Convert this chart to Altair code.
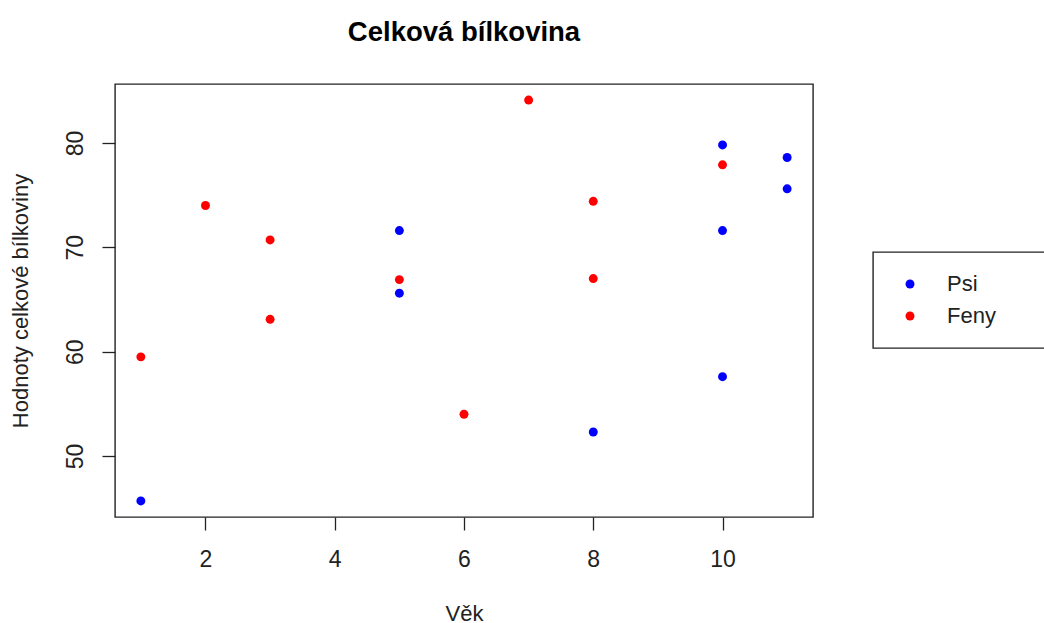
import altair as alt
import pandas as pd

# Data
psi_age = [1, 5, 5, 8, 10, 10, 10, 11, 11]
psi_val = [45.7, 71.6, 65.6, 52.3, 79.8, 71.6, 57.6, 78.6, 75.6]
feny_age = [1, 2, 3, 3, 5, 6, 7, 8, 8, 10]
feny_val = [59.5, 74.0, 70.7, 63.1, 66.9, 54.0, 84.1, 74.4, 67.0, 77.9]

groups = ["Psi", "Feny"]
group_colors = ["#0000ff", "#ff0000"]
x_ticks = [2, 4, 6, 8, 10]
y_ticks = [50, 60, 70, 80]

df = pd.DataFrame({
    "Věk": psi_age + feny_age,
    "Hodnota": psi_val + feny_val,
    "Skupina": ["Psi"] * len(psi_age) + ["Feny"] * len(feny_age),
})

FONT = "Liberation Sans"
NBSP = "\u00a0"
BLANK = "\u2800"  # blank glyph that is not trimmed as whitespace

chart = alt.Chart(df).mark_circle(size=80, opacity=1).encode(
    x=alt.X("Věk:Q",
            scale=alt.Scale(domain=[0.6, 11.4], nice=False, zero=False),
            axis=alt.Axis(values=x_ticks, title="Věk", titleX=349, titleY=103,
                          titleBaseline="alphabetic", titleAlign="center",
                          labelPadding=18)),
    y=alt.Y("Hodnota:Q",
            scale=alt.Scale(domain=[44.16, 85.64], nice=False, zero=False),
            axis=alt.Axis(values=y_ticks, title="Hodnoty celkové bílkoviny",
                          titleX=-88, titleY=216.5, titleAngle=270,
                          titleBaseline="alphabetic", titleAlign="center",
                          labelAngle=270, labelAlign="center",
                          labelBaseline="alphabetic", labelPadding=20)),
    color=alt.Color("Skupina:N",
                    scale=alt.Scale(domain=groups, range=group_colors),
                    legend=alt.Legend(
                        title=NBSP, titleOrient="left", titleFontSize=22,
                        titlePadding=5,
                        orient="none", legendX=758, legendY=168,
                        padding=21, strokeColor="#222", fillColor="white",
                        symbolType="circle", symbolSize=80, symbolStrokeWidth=0,
                        labelOffset=26, labelLimit=800, rowPadding=10,
                        labelExpr="datum.label + '" + BLANK * 30 + "'")),
).properties(
    width=698,
    height=433,
    background="white",
    title=alt.TitleParams("Celková bílkovina", fontSize=27.5, font=FONT,
                          fontWeight="bold", anchor="middle", offset=38,
                          color="#000"),
    autosize=alt.AutoSizeParams(type="none"),
    padding={"left": 115, "top": 84, "right": 231, "bottom": 106},
).configure_view(
    stroke="#222", strokeWidth=1.4
).configure_axis(
    grid=False, domain=False, tickSize=13, tickColor="#222", tickWidth=1.3,
    labelFont=FONT, labelFontSize=23, labelColor="#222",
    titleFont=FONT, titleFontSize=22, titleColor="#222", titleFontWeight="normal",
).configure_legend(
    labelFont=FONT, labelFontSize=22, labelColor="#222", strokeWidth=1.4,
)

chart.save("out.html", embed_options={"renderer": "svg", "actions": False})
